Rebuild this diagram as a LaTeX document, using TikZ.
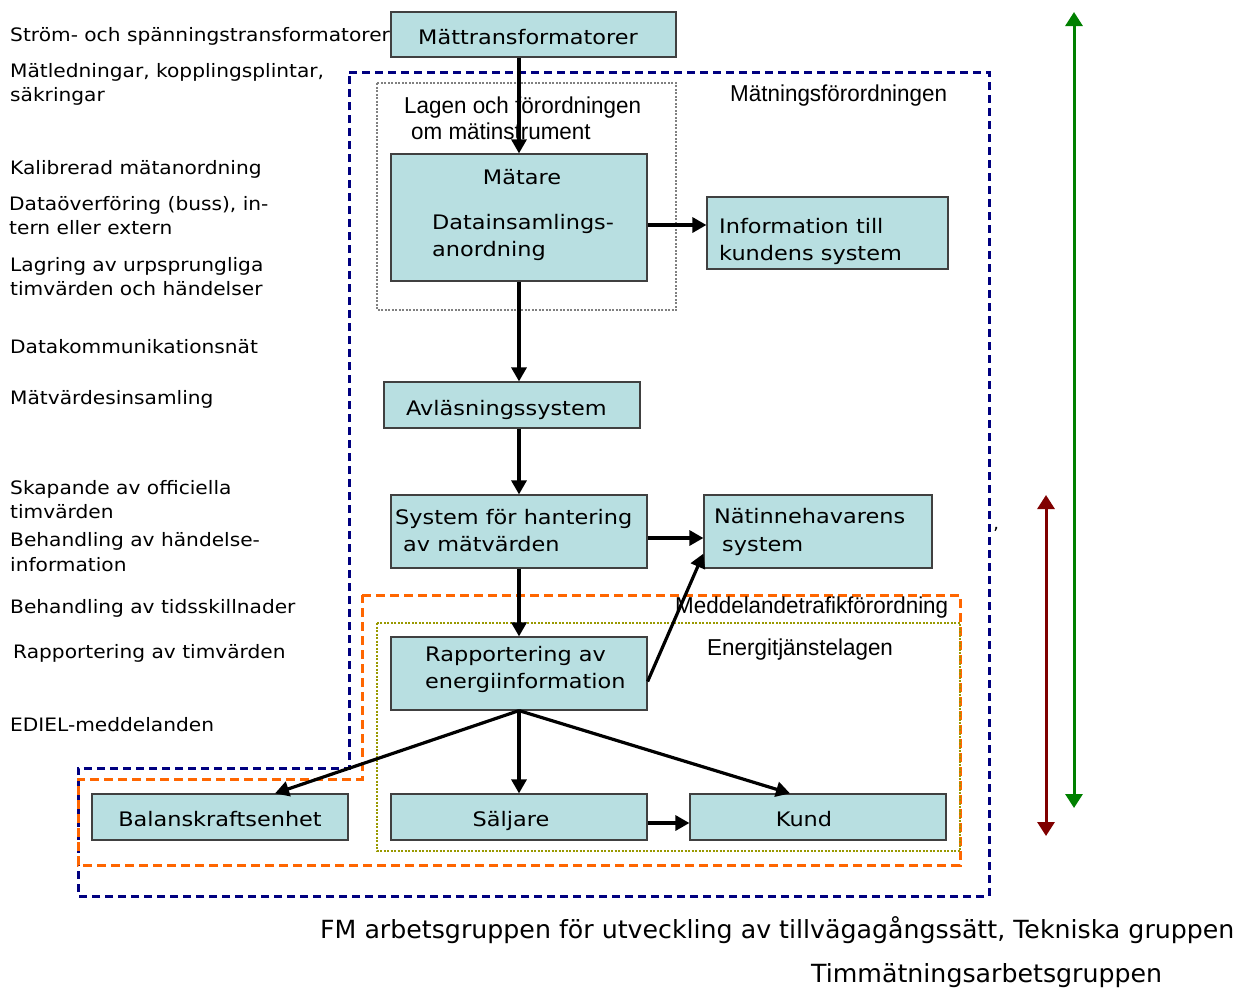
\documentclass[tikz,border=0pt]{standalone}
\usepackage{fontspec}
\setmainfont{DejaVu Sans}
\newfontfamily\sidefont[FakeStretch=1.09]{DejaVu Sans}
\newfontfamily\boxfont[FakeStretch=1.12]{DejaVu Sans}
\newfontfamily\lawfont[FakeStretch=0.975]{Liberation Sans}
\newfontfamily\groupfont[FakeStretch=1.01]{DejaVu Sans}
\usetikzlibrary{arrows.meta,calc}

\definecolor{boxfill}{RGB}{184,223,225}
\definecolor{boxedge}{RGB}{64,64,64}
\definecolor{navyline}{RGB}{0,0,128}
\definecolor{orangeline}{RGB}{255,102,0}
\definecolor{oliveline}{RGB}{153,153,0}
\definecolor{grayline}{RGB}{128,128,128}
\definecolor{greenline}{RGB}{0,128,0}
\definecolor{redline}{RGB}{128,0,0}

\tikzset{
  box/.style={draw=boxedge, fill=boxfill, line width=1.2pt, inner sep=0pt, rectangle},
  boxtext/.style={font=\boxfont\fontsize{20}{24}\selectfont, inner sep=0pt, anchor=base west},
  boxtextc/.style={font=\boxfont\fontsize{20}{24}\selectfont, inner sep=0pt, anchor=base},
  sidetext/.style={font=\sidefont\fontsize{18.5}{22}\selectfont, inner sep=0pt, anchor=base west},
  lawtext/.style={font=\lawfont\fontsize{23}{27}\selectfont, inner sep=0pt, anchor=base west},
  grouptext/.style={font=\groupfont\fontsize{25}{30}\selectfont, inner sep=0pt, anchor=base west},
  flow/.style={line width=3.2pt, -{Triangle[length=14pt,width=15pt]}},
  scope arrow/.style={line width=3pt, {Triangle[length=14pt,width=17pt]}-{Triangle[length=14pt,width=17pt]}},
  navyregion/.style={draw=navyline, line width=3pt, dash pattern=on 8pt off 5pt},
  orangeregion/.style={draw=orangeline, line width=3pt, dash pattern=on 9pt off 5pt},
  grayregion/.style={draw=grayline, line width=1.1pt, dash pattern=on 2pt off 1.5pt},
  oliveregion/.style={draw=oliveline, line width=1.2pt, dash pattern=on 2pt off 1.5pt},
}

\begin{document}
\begin{tikzpicture}[x=1pt, y=-1pt]
\path[use as bounding box] (0,0) rectangle (1246,988);

% regulatory regions
\draw[navyregion] (349,72) -- (989,72) -- (989,896) -- (78,896) -- (78,768) -- (349,768) -- cycle;
\draw[orangeregion] (362,595) -- (960,595) -- (960,865) -- (78,865) -- (78,779) -- (362,779) -- cycle;
\draw[grayregion] (377,83) rectangle (676,310);
\draw[oliveregion] (377,623) rectangle (960,851);

% region labels
\node[lawtext] (lagen1) at (404,113) {Lagen och förordningen};
\node[lawtext] (lagen2) at (411,139) {om mätinstrument};
\node[lawtext] (matf) at (730,101) {Mätningsförordningen};
\node[lawtext] (medd) at (675,613) {Meddelandetrafikförordning};
\node[lawtext] (energi) at (707,655) {Energitjänstelagen};

% process boxes
\node[box, minimum width=285pt, minimum height=45pt] (mt) at (533.5,34.5) {};
\node[box, minimum width=256pt, minimum height=127pt] (mat) at (519,217.5) {};
\node[box, minimum width=241pt, minimum height=72pt] (info) at (827.5,233) {};
\node[box, minimum width=256pt, minimum height=46pt] (avl) at (512,405) {};
\node[box, minimum width=256pt, minimum height=73pt] (sys) at (519,531.5) {};
\node[box, minimum width=228pt, minimum height=73pt] (nat) at (818,531.5) {};
\node[box, minimum width=256pt, minimum height=73pt] (rap) at (519,673.5) {};
\node[box, minimum width=256pt, minimum height=46pt] (bal) at (220,817) {};
\node[box, minimum width=256pt, minimum height=46pt] (sal) at (519,817) {};
\node[box, minimum width=256pt, minimum height=46pt] (kund) at (818,817) {};

% box texts
\node[boxtext] (mtT) at (418,44) {Mättransformatorer};
\node[boxtextc] (matT1) at (522,184) {Mätare};
\node[boxtext] (matT2) at (432,229) {Datainsamlings-};
\node[boxtext] (matT3) at (432,256) {anordning};
\node[boxtext] (infoT1) at (719,233) {Information till};
\node[boxtext] (infoT2) at (719,260) {kundens system};
\node[boxtext] (avlT) at (406,415) {Avläsningssystem};
\node[boxtext] (sysT1) at (395,524) {System för hantering};
\node[boxtext] (sysT2) at (403,551) {av mätvärden};
\node[boxtext] (natT1) at (714,523) {Nätinnehavarens};
\node[boxtext] (natT2) at (722,551) {system};
\node[boxtext] (rapT1) at (425,661) {Rapportering av};
\node[boxtext] (rapT2) at (425,688) {energiinformation};
\node[boxtextc] (balT) at (220,826) {Balanskraftsenhet};
\node[boxtextc] (salT) at (511,826) {Säljare};
\node[boxtextc] (kundT) at (804,826) {Kund};

% flow connectors
\coordinate (spine) at (519,0);
\coordinate (rowA) at (0,225);
\coordinate (rowB) at (0,538);
\coordinate (rowC) at (0,823);
\draw[flow] (mt.south -| spine) -- (mat.north -| spine);
\draw[flow] (mat.east |- rowA) -- (info.west |- rowA);
\draw[flow] (mat.south -| spine) -- (avl.north -| spine);
\draw[flow] (avl.south -| spine) -- (sys.north -| spine);
\draw[flow] (sys.east |- rowB) -- (nat.west |- rowB);
\draw[flow] (sys.south -| spine) -- (rap.north -| spine);
\draw[flow] ([yshift=-8pt]rap.east) -- ([yshift=15pt]nat.south west);
\draw[flow] (rap.south -| spine) -- (sal.north -| spine);
\draw[flow] (rap.south -| spine) -- ([xshift=55pt]bal.north);
\draw[flow] (rap.south -| spine) -- ([xshift=-28pt]kund.north);
\draw[flow] (sal.east |- rowC) -- (kund.west |- rowC);

% scope arrows on the right
\coordinate (gTop) at (1074,12);
\coordinate (gBot) at (1074,808);
\coordinate (rTop) at (1046,495);
\coordinate (rBot) at (1046,836);
\draw[scope arrow, greenline] (gTop) -- (gBot);
\draw[scope arrow, redline] (rTop) -- (rBot);
\node[font=\fontsize{18}{22}\selectfont, inner sep=0pt, anchor=base west] (tick) at (993,540) {’};

% activities listed on the left
\node[sidetext] (s1) at (10,41) {Ström- och spänningstransformatorer};
\node[sidetext] (s2a) at (10,77) {Mätledningar, kopplingsplintar,};
\node[sidetext] (s2b) at (10,101) {säkringar};
\node[sidetext] (s3) at (10,174) {Kalibrerad mätanordning};
\node[sidetext] (s4a) at (9,210) {Dataöverföring (buss), in-};
\node[sidetext] (s4b) at (9,234) {tern eller extern};
\node[sidetext] (s5a) at (10,271) {Lagring av urpsprungliga};
\node[sidetext] (s5b) at (10,295) {timvärden och händelser};
\node[sidetext] (s6) at (10,353) {Datakommunikationsnät};
\node[sidetext] (s7) at (10,404) {Mätvärdesinsamling};
\node[sidetext] (s8a) at (10,494) {Skapande av officiella};
\node[sidetext] (s8b) at (10,518) {timvärden};
\node[sidetext] (s9a) at (10,546) {Behandling av händelse-};
\node[sidetext] (s9b) at (10,571) {information};
\node[sidetext] (s10) at (10,613) {Behandling av tidsskillnader};
\node[sidetext] (s11) at (13,658) {Rapportering av timvärden};
\node[sidetext] (s12) at (10,731) {EDIEL-meddelanden};

% working groups
\node[grouptext] (g1) at (320,938) {FM arbetsgruppen för utveckling av tillvägagångssätt, Tekniska gruppen};
\node[grouptext] (g2) at (811,982) {Timmätningsarbetsgruppen};
\end{tikzpicture}
\end{document}
